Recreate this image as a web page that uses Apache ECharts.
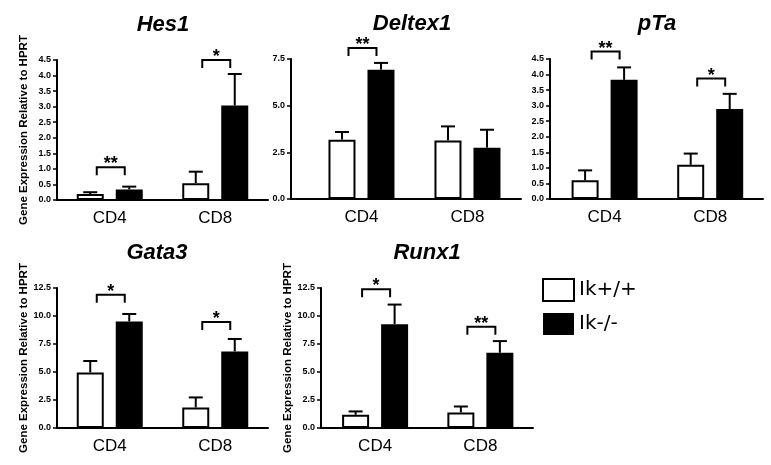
<!DOCTYPE html>
<html><head><meta charset="utf-8">
<script src="https://cdn.jsdelivr.net/npm/echarts@6/dist/echarts.min.js"></script>
<style>html,body{margin:0;padding:0;background:#fff}#c{width:771px;height:465px}</style>
</head><body><div id="c"></div>
<script>
// ---------- DATA ----------
const categories = ['CD4', 'CD8'];
const genes = ['Hes1', 'Deltex1', 'pTa', 'Gata3', 'Runx1'];
const seriesNames = ['Ik+/+', 'Ik-/-'];
const yAxisTitle = 'Gene Expression Relative to HPRT';
// mean values per gene [CD4, CD8]
const wtMean = [[0.19, 0.54], [3.18, 3.14], [0.60, 1.10], [4.96, 1.84], [1.18, 1.39]];
const wtErr  = [[0.06, 0.37], [0.41, 0.75], [0.32, 0.36], [1.02, 0.89], [0.30, 0.53]];
const koMean = [[0.34, 3.04], [6.93, 2.75], [3.83, 2.89], [9.52, 6.84], [9.27, 6.72]];
const koErr  = [[0.09, 1.01], [0.36, 0.96], [0.40, 0.49], [0.66, 1.11], [1.75, 1.04]];
const significance = [['**', '*'], ['**', ''], ['**', '*'], ['*', '*'], ['*', '**']];
const bracketLevel = [[1.05, 4.5], [8.09, null], [4.74, 3.87], [11.9, 9.46], [12.38, 9.03]];
const yMax  = [4.5, 7.5, 4.5, 12.5, 12.5];
const yStep = [0.5, 2.5, 0.5, 2.5, 2.5];
const showYTitle = [true, false, false, true, true];

// ---------- LAYOUT ----------
const FONT = "'Liberation Sans', Arial, sans-serif";
const panels = [
  {left: 57,  top: 60, width: 211, height: 140, xMin: -0.5,   xMax: 1.5,   titleX: 163, titleY: 14},
  {left: 291, top: 59, width: 230, height: 140, xMin: -0.665, xMax: 1.505, titleX: 412, titleY: 13},
  {left: 550, top: 59, width: 213, height: 140, xMin: -0.517, xMax: 1.5,   titleX: 657, titleY: 13},
  {left: 57,  top: 288, width: 211, height: 140, xMin: -0.5,  xMax: 1.5,   titleX: 157, titleY: 242},
  {left: 321, top: 288, width: 212, height: 140, xMin: -0.514, xMax: 1.5,  titleX: 427, titleY: 242}
];
const BAR_W = 27, BAR_GAP = 12, CAP = 14;
const OFF = (BAR_W + BAR_GAP) / 2;

function errRender(offset) {
  return function (params, api) {
    const base = api.coord([api.value(0), api.value(1)]);
    const top = api.coord([api.value(0), api.value(2)]);
    const x = base[0] + offset;
    return {type: 'group', children: [
      {type: 'line', shape: {x1: x, y1: base[1], x2: x, y2: top[1]}, style: {stroke: '#000', lineWidth: 2}},
      {type: 'line', shape: {x1: x - CAP / 2, y1: top[1], x2: x + CAP / 2, y2: top[1]}, style: {stroke: '#000', lineWidth: 2}}
    ]};
  };
}
function bracketRender(labels) {
  return function (params, api) {
    const c = api.coord([api.value(0), api.value(1)]);
    const x = c[0], y = c[1];
    return {type: 'group', children: [
      {type: 'polyline', shape: {points: [[x - 13, y + 8], [x - 13, y], [x + 15, y], [x + 15, y + 8]]},
        style: {stroke: '#000', lineWidth: 2, fill: null}},
      {type: 'text', x: x + 1, y: y - 3,
        style: {text: labels[params.dataIndex], fill: '#000', font: 'bold 18px ' + FONT, align: 'center', verticalAlign: 'middle'}}
    ]};
  };
}

const grid = [], xAxis = [], yAxis = [], series = [], title = [];
genes.forEach((g, i) => {
  const p = panels[i];
  grid.push({left: p.left, top: p.top, width: p.width, height: p.height, containLabel: false, outerBoundsMode: 'none'});
  title.push({text: g, left: p.titleX, top: p.titleY, textAlign: 'center', padding: 0,
    textStyle: {fontFamily: FONT, fontSize: 22, fontWeight: 'bold', fontStyle: 'italic', color: '#000'}});
  xAxis.push({type: 'value', gridIndex: i, min: p.xMin, max: p.xMax,
    axisLine: {show: true, onZero: false, lineStyle: {color: '#000', width: 2}},
    axisTick: {show: false}, splitLine: {show: false},
    axisLabel: {customValues: [0, 1], formatter: v => categories[Math.round(v)] || '',
      fontFamily: FONT, fontSize: 17, color: '#000', margin: 10}});
  yAxis.push({type: 'value', gridIndex: i, min: 0, max: yMax[i], interval: yStep[i],
    axisLine: {show: true, onZero: false, lineStyle: {color: '#000', width: 2}},
    axisTick: {show: true, length: 4, lineStyle: {color: '#000', width: 1.5}},
    splitLine: {show: false},
    axisLabel: {fontFamily: FONT, fontSize: 9, fontWeight: 'bold', color: '#000', margin: 6,
      formatter: v => v.toFixed(1)},
    name: showYTitle[i] ? yAxisTitle : '', nameLocation: 'middle', nameGap: 27,
    nameTextStyle: {fontFamily: FONT, fontSize: 11.5, fontWeight: 'bold', color: '#000'}});
  series.push({type: 'bar', name: seriesNames[0], xAxisIndex: i, yAxisIndex: i, silent: true,
    barWidth: BAR_W, barGap: (BAR_GAP / BAR_W * 100) + '%',
    itemStyle: {color: '#fff', borderColor: '#000', borderWidth: 2},
    data: categories.map((c, j) => [j, wtMean[i][j]])});
  series.push({type: 'bar', name: seriesNames[1], xAxisIndex: i, yAxisIndex: i, silent: true,
    barWidth: BAR_W, barGap: (BAR_GAP / BAR_W * 100) + '%',
    itemStyle: {color: '#000', borderColor: '#000', borderWidth: 2},
    data: categories.map((c, j) => [j, koMean[i][j]])});
  series.push({type: 'custom', xAxisIndex: i, yAxisIndex: i, silent: true, clip: false, z: 3,
    renderItem: errRender(-OFF),
    data: categories.map((c, j) => [j, wtMean[i][j], wtMean[i][j] + wtErr[i][j]])});
  series.push({type: 'custom', xAxisIndex: i, yAxisIndex: i, silent: true, clip: false, z: 3,
    renderItem: errRender(OFF),
    data: categories.map((c, j) => [j, koMean[i][j], koMean[i][j] + koErr[i][j]])});
  const bData = [], bLabels = [];
  categories.forEach((c, j) => {
    if (bracketLevel[i][j] != null && significance[i][j]) {
      bData.push([j, bracketLevel[i][j]]); bLabels.push(significance[i][j]);
    }
  });
  series.push({type: 'custom', xAxisIndex: i, yAxisIndex: i, silent: true, clip: false, z: 3,
    renderItem: bracketRender(bLabels), data: bData});
});

const chart = echarts.init(document.getElementById('c'), null, {renderer: 'canvas'});
chart.setOption({
  animation: false,
  backgroundColor: '#fff',
  textStyle: {fontFamily: FONT},
  title, grid, xAxis, yAxis, series,
  legend: {orient: 'vertical', left: 542, top: 278, padding: 0, itemWidth: 31, itemHeight: 22, itemGap: 11,
    selectedMode: false,
    textStyle: {fontFamily: "'DejaVu Sans', sans-serif", fontSize: 20, color: '#000'},
    data: [
      {name: seriesNames[0], icon: 'rect', itemStyle: {color: '#fff', borderColor: '#000', borderWidth: 2}},
      {name: seriesNames[1], icon: 'rect', itemStyle: {color: '#000', borderColor: '#000', borderWidth: 0}}
    ]}
});
</script></body></html>
